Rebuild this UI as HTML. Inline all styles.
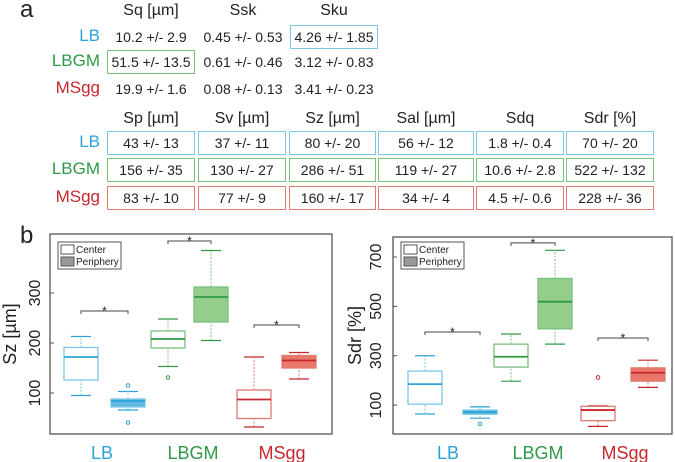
<!DOCTYPE html>
<html><head><meta charset="utf-8">
<style>
body{margin:0;background:#fff;font-family:"Liberation Sans",sans-serif;}
#wrap{position:relative;width:675px;height:462px;overflow:hidden;}
.t{position:absolute;white-space:nowrap;color:#222;}
.cell{position:absolute;box-sizing:border-box;border:1.3px solid;font-size:14px;text-align:center;line-height:22px;color:#222;}
.hd{position:absolute;font-size:16px;text-align:center;color:#222;}
.rl{position:absolute;font-size:17px;text-align:right;width:90px;}
</style></head><body>
<div id="wrap">
<div class="t" style="left:20px;top:-4px;font-size:24px">a</div>
<div class="t" style="left:20px;top:222px;font-size:24px">b</div>
<div id="tbl"></div>
<svg id="c1" width="675" height="462" style="position:absolute;left:0;top:0"></svg>
</div>
<script>
const groupNames=["LB","LBGM","MSgg"];
const gcol=["#2aa3d8","#2e9a48","#c8282c"];
const bcol=["#7cc7e6","#79c07d","#e07a72"];
const fcol=["#5fb9e2","#94cd8c","#e9786b"];
// ---------- table ----------
const tbl=document.getElementById('tbl');
function add(html,cls,style,name){const d=document.createElement('div');d.className=cls;d.setAttribute('style',style);d.textContent=html;


tbl.appendChild(d);return d;}
const topHeads=["Sq [µm]","Ssk","Sku"];
const topVals=[["10.2 +/- 2.9","0.45 +/- 0.53","4.26 +/- 1.85"],["51.5 +/- 13.5","0.61 +/- 0.46","3.12 +/- 0.83"],["19.9 +/- 1.6","0.08 +/- 0.13","3.41 +/- 0.23"]];
const topX=[107,199,290],topW=[88,88,88],topY=[25,50,77];
topHeads.forEach((h,i)=>add(h,'hd',`left:${topX[i]}px;top:2px;width:${topW[i]}px`,'header-'+h.split(' ')[0].toLowerCase()));
groupNames.forEach((g,r)=>{
 add(g,'rl',`left:10px;top:${topY[r]+1}px;color:${gcol[r]}`,'row-label-'+g.toLowerCase());
 topVals[r].forEach((v,c)=>{
  const boxed=(r==0&&c==2)||(r==1&&c==0);
  add(v,'cell',`left:${topX[c]}px;top:${topY[r]}px;width:${topW[c]}px;height:24px;border-color:${boxed?bcol[r]:'transparent'}`,'cell-'+g.toLowerCase()+'-'+c);
 });
});
const botHeads=["Sp [µm]","Sv [µm]","Sz [µm]","Sal [µm]","Sdq","Sdr [%]"];
const botVals=[["43 +/- 13","37 +/- 11","80 +/- 20","56 +/- 12","1.8 +/- 0.4","70 +/- 20"],["156 +/- 35","130 +/- 27","286 +/- 51","119 +/- 27","10.6 +/- 2.8","522 +/- 132"],["83 +/- 10","77 +/- 9","160 +/- 17","34 +/- 4","4.5 +/- 0.6","228 +/- 36"]];
const botX=[107,198,289,378,476,566],botW=[88,88,87,96,88,88],botY=[131,158,186];
botHeads.forEach((h,i)=>add(h,'hd',`left:${botX[i]}px;top:110px;width:${botW[i]}px`,'header-'+h.split(' ')[0].toLowerCase()));
groupNames.forEach((g,r)=>{
 add(g,'rl',`left:10px;top:${botY[r]+1}px;color:${gcol[r]}`,'row-label2-'+g.toLowerCase());
 botVals[r].forEach((v,c)=>add(v,'cell',`left:${botX[c]}px;top:${botY[r]}px;width:${botW[c]}px;height:24px;border-color:${bcol[r]}`,'cell2-'+g.toLowerCase()+'-'+c));
});
// ---------- charts ----------
// each box: [whiskerLow, Q1, median, Q3, whiskerHigh]
const szBoxes=[[95,126,172,191,213],[66,72,84,88,103],[153,190,208,224,248],[205,242,292,312,385],[32,49,87,106,172],[128,150,165,175,181]];
const szOutliers=[[],[115,41],[131],[],[],[]];
const szSig=[264,404,236];
const sdrBoxes=[[64,104,185,238,300],[47,63,71,80,93],[197,254,296,347,388],[347,409,519,613,727],[14,37,80,95,97],[172,197,231,251,282]];
const sdrOutliers=[[],[24],[],[],[212],[]];
const sdrSig=[396,757,372];
const szTicks=[100,200,300],sdrTicks=[100,300,500,700];
const svg=document.getElementById('c1');const NS='http://www.w3.org/2000/svg';
function el(t,a,name,p){const e=document.createElementNS(NS,t);for(const k in a)e.setAttribute(k,a[k]);


(p||svg).appendChild(e);return e;}
function chart(cfg){
 const {x0,x1,y0,y1,vmin,vmax,boxes,outs,sig,ticks,centers,title,titleX,tickX,labX,name,legX}=cfg;
 const g=el('g',{},name);
 const Y=v=>y1-(v-vmin)/(vmax-vmin)*(y1-y0);
 el('rect',{x:x0,y:y0,width:x1-x0,height:y1-y0,fill:'none',stroke:'#555','stroke-width':1.3},'plot-frame',g);
 ticks.forEach(t=>{el('line',{x1:x0,x2:x0+4,y1:Y(t),y2:Y(t),stroke:'#555'},'y-tick',g);
  const tx=el('text',{x:tickX,y:Y(t),'font-size':16,fill:'#222','text-anchor':'middle',transform:`rotate(-90 ${tickX} ${Y(t)})`,'font-family':'Liberation Sans'},'y-tick-label',g);tx.textContent=t;});
 const tt=el('text',{x:titleX,y:(y0+y1)/2,'font-size':18,fill:'#222','text-anchor':'middle',transform:`rotate(-90 ${titleX} ${(y0+y1)/2})`,'font-family':'Liberation Sans'},'y-axis-title',g);tt.textContent=title;
 boxes.forEach((b,i)=>{
  const gi=Math.floor(i/2),per=i%2==1,cx=centers[i],hw=17,col=gcol[gi];
  el('line',{x1:cx,x2:cx,y1:Y(b[0]),y2:Y(b[1]),stroke:bcol[gi],'stroke-dasharray':'2,1.5'},'whisker-low',g);
  el('line',{x1:cx,x2:cx,y1:Y(b[3]),y2:Y(b[4]),stroke:bcol[gi],'stroke-dasharray':'2,1.5'},'whisker-high',g);
  el('line',{x1:cx-10,x2:cx+10,y1:Y(b[0]),y2:Y(b[0]),stroke:col,'stroke-width':1.2},'whisker-cap',g);
  el('line',{x1:cx-10,x2:cx+10,y1:Y(b[4]),y2:Y(b[4]),stroke:col,'stroke-width':1.2},'whisker-cap',g);
  el('rect',{x:cx-hw,y:Y(b[3]),width:2*hw,height:Y(b[1])-Y(b[3]),fill:per?fcol[gi]:'#fff',stroke:bcol[gi],'stroke-width':1.3},'box-'+groupNames[gi].toLowerCase()+(per?'-periphery':'-center'),g);
  el('line',{x1:cx-hw,x2:cx+hw,y1:Y(b[2]),y2:Y(b[2]),stroke:col,'stroke-width':1.8},'median',g);
  outs[i].forEach(o=>el('circle',{cx:cx,cy:Y(o),r:1.8,fill:'none',stroke:col},'outlier',g));
 });
 sig.forEach((s,k)=>{const a=centers[2*k],b=centers[2*k+1],y=Y(s);
  el('path',{d:`M${a} ${y+3}V${y}H${b}V${y+3}`,fill:'none',stroke:'#444','stroke-width':1},'significance-bracket',g);
  const st=el('text',{x:(a+b)/2,y:y+4,'font-size':12,'text-anchor':'middle',fill:'#222'},'significance-star',g);st.textContent='*';});
 groupNames.forEach((n,k)=>{const t=el('text',{x:labX[k],y:459,'font-size':18,'text-anchor':'middle',fill:gcol[k],'font-family':'Liberation Sans'},'x-label-'+n.toLowerCase(),g);t.textContent=n;});
 const lg=el('g',{},'legend',g);
 el('rect',{x:legX,y:242,width:63,height:27,fill:'#fff',stroke:'#555'},'legend-frame',lg);
 el('rect',{x:legX+3,y:245,width:13,height:9,fill:'#fff',stroke:'#555'},'legend-swatch-center',lg);
 el('rect',{x:legX+3,y:257,width:13,height:9,fill:'#999',stroke:'#555'},'legend-swatch-periphery',lg);
 let t1=el('text',{x:legX+18,y:253,'font-size':10,fill:'#222'},'legend-entry-center',lg);t1.textContent='Center';
 let t2=el('text',{x:legX+18,y:265,'font-size':10,fill:'#222'},'legend-entry-periphery',lg);t2.textContent='Periphery';
}
chart({x0:50,x1:332,y0:234,y1:434,vmin:18,vmax:418,boxes:szBoxes,outs:szOutliers,sig:szSig,ticks:szTicks,
 centers:[81,128,168,211,254,299],title:'Sz [µm]',titleX:16,tickX:40,labX:[102,193,282],name:'sz-chart',legX:58});
chart({x0:393,x1:672,y0:237,y1:434,vmin:-17,vmax:781,boxes:sdrBoxes,outs:sdrOutliers,sig:sdrSig,ticks:sdrTicks,
 centers:[425,480,511,555,598,648],title:'Sdr [%]',titleX:361,tickX:381,labX:[448,538,625],name:'sdr-chart',legX:401});
</script>
</body></html>
